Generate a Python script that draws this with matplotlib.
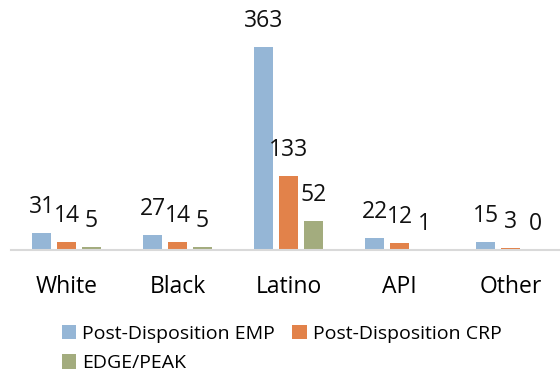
import matplotlib.pyplot as plt
import numpy as np

categories = ["White", "Black", "Latino", "API", "Other"]
emp = [31, 27, 363, 22, 15]
crp = [14, 14, 133, 12, 3]
edge = [5, 5, 52, 1, 0]

series = [("Post-Disposition EMP", emp, "#95B6D6"),
          ("Post-Disposition CRP", crp, "#E2824A"),
          ("EDGE/PEAK", edge, "#A3AC7E")]

plt.rcParams['font.family'] = ['Open Sans', 'DejaVu Sans']

fig = plt.figure(figsize=(5.6, 3.75), dpi=100)
ax = fig.add_axes([11 / 560, 125 / 375, 549 / 560, 250 / 375])

x = np.arange(len(categories))
slot = 0.222
width = 0.172
bars = []
for i, (name, vals, col) in enumerate(series):
    pos = x + (i - 1) * slot
    b = ax.bar(pos, vals, width, color=col, label=name, zorder=2)
    bars.append(b)
    for px, v in zip(pos, vals):
        ax.annotate(str(v), (px, v), xytext=(0, 10), textcoords='offset points',
                    ha='center', va='bottom', fontsize=16.5, color='#111111')

ax.set_xlim(-0.5, -0.5 + 549 / 111)
ax.set_ylim(0, 447)
ax.set_xticks(x)
ax.set_xticklabels(categories, fontsize=16.5)
ax.tick_params(axis='x', length=0, pad=18)
ax.set_yticks([])
for s in ['top', 'right', 'left']:
    ax.spines[s].set_visible(False)
ax.spines['bottom'].set_color('#D9D9D9')
ax.spines['bottom'].set_linewidth(1.5)

# row-wise order for a 2 column legend
order = [0, 2, 1]
fig.legend([bars[i] for i in order], [series[i][0] for i in order],
           loc='upper left', bbox_to_anchor=(52 / 560, 1 - 315 / 375), ncol=2,
           frameon=False, fontsize=14, handlelength=0.75, handleheight=0.75,
           handletextpad=0.3, columnspacing=0.9, labelspacing=0.6, borderpad=0)

fig.savefig("out.png", dpi=100)
